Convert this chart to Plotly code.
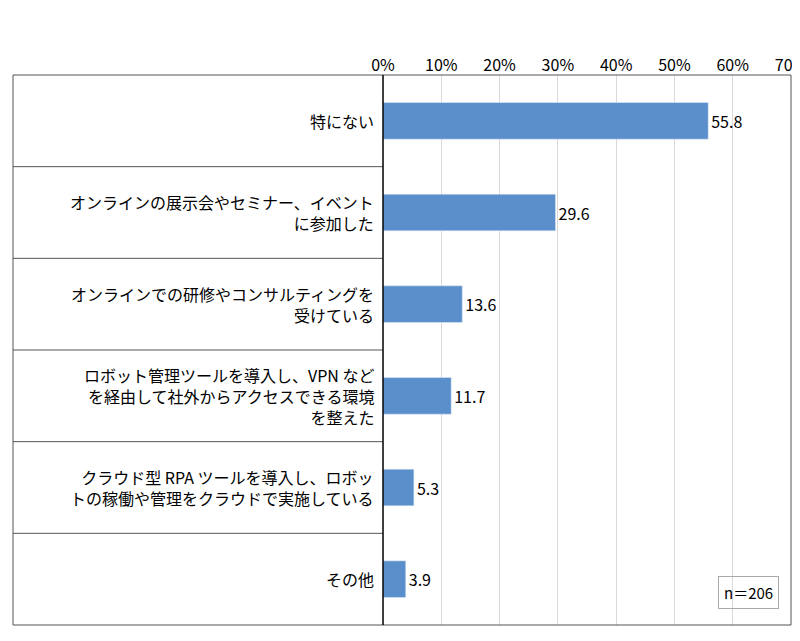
import plotly.graph_objects as go

# categories (top to bottom) and values (%)
labels = [
    "特にない",
    "オンラインの展示会やセミナー、イベント<br>に参加した",
    "オンラインでの研修やコンサルティングを<br>受けている",
    "ロボット管理ツールを導入し、VPN など<br>を経由して社外からアクセスできる環境<br>を整えた",
    "クラウド型 RPA ツールを導入し、ロボッ<br>トの稼働や管理をクラウドで実施している",
    "その他",
]
values = [55.8, 29.6, 13.6, 11.7, 5.3, 3.9]
tick_vals = [0, 10, 20, 30, 40, 50, 60, 70]
tick_text = [f"{t}%" for t in tick_vals]

font = "Noto Sans CJK JP"
pos = list(range(len(labels)))

fig = go.Figure(go.Bar(
    x=values, y=pos, orientation="h", width=0.4,
    marker_color="#5b8fcb",
    text=[f"{v:.1f}" for v in values], textposition="outside",
    textfont=dict(size=16, color="black"), cliponaxis=False,
))

shapes = [dict(type="rect", xref="paper", yref="paper", x0=0, x1=1, y0=0, y1=1,
               line=dict(color="#555", width=1))]
for k in range(len(labels) - 1):
    shapes.append(dict(type="line", xref="paper", yref="y", x0=0, x1=0.4756,
                       y0=k + 0.5, y1=k + 0.5, line=dict(color="#555", width=1)))
shapes.append(dict(type="line", xref="paper", yref="paper", x0=0.4756, x1=0.4756,
                   y0=0, y1=1, line=dict(color="black", width=1.5)))

annotations = [dict(x=0.4666, y=p, xref="paper", yref="y", text=lab, showarrow=False,
                    xanchor="right", align="right", font=dict(size=16, color="black"))
               for p, lab in zip(pos, labels)]
annotations.append(dict(x=0.985, y=0.03, xref="paper", yref="paper", text="n＝206",
                        showarrow=False, xanchor="right", yanchor="bottom",
                        bordercolor="#aaa", borderwidth=1, borderpad=5,
                        font=dict(size=15, color="black")))

fig.update_layout(
    width=800, height=641, margin=dict(l=5, r=17, t=67, b=24, autoexpand=False),
    plot_bgcolor="white", paper_bgcolor="white", showlegend=False,
    font=dict(family=font, size=15, color="black"),
    xaxis=dict(domain=[0.4756, 1], range=[0, 70], side="top", tickvals=tick_vals,
               ticktext=tick_text, showgrid=True, gridcolor="#d9d9d9", automargin=False,
               zeroline=False, ticks="", tickfont=dict(size=16)),
    yaxis=dict(range=[5.5, -0.5], showticklabels=False, showgrid=False, zeroline=False,
               automargin=False),
    shapes=shapes, annotations=annotations,
)

fig.write_html("out.html")
